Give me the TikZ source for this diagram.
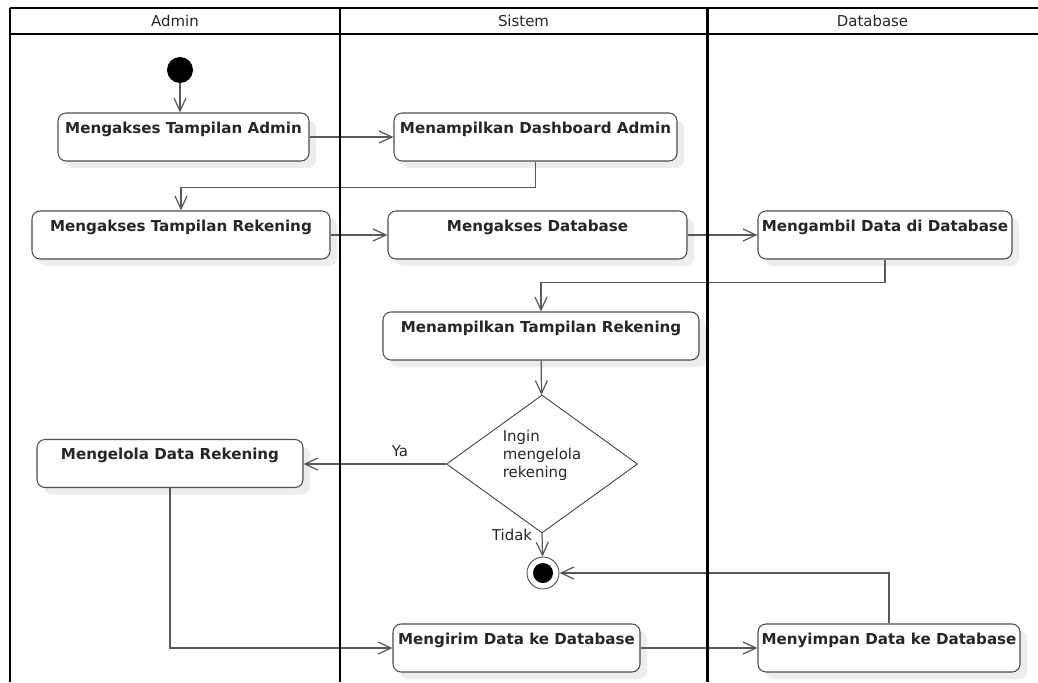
\documentclass[tikz,border=0pt]{standalone}
\usepackage{fontspec}
\setmainfont{DejaVu Sans}
\usetikzlibrary{shapes.geometric, arrows.meta, shadows}

\begin{document}
\begin{tikzpicture}[
        act/.style={rectangle, rounded corners=0.16cm, draw=black!70, line width=0.6pt, fill=white,
            minimum height=0.96cm, text height=0.4cm, text depth=0.56cm, inner ysep=0pt, inner xsep=1pt,
            font=\fontsize{8.6}{10}\selectfont\bfseries, text=black!85,
            drop shadow={shadow xshift=0.14cm, shadow yshift=-0.14cm, fill=black!10, opacity=0.7}},
        decision/.style={diamond, draw=black!75, line width=0.5pt, minimum width=3.82cm, minimum height=2.76cm, inner sep=0pt},
        initial/.style={circle, fill=black, minimum size=0.52cm, inner sep=0pt},
        final/.style={circle, draw=black!70, line width=0.5pt, minimum size=0.64cm, inner sep=0pt,
            path picture={\fill[black] (path picture bounding box.center) circle (0.2cm);}},
        flow/.style={-{Straight Barb[length=0.26cm, width=0.24cm]}, draw=black!65, line width=0.7pt},
        guard/.style={font=\fontsize{8.5}{10.25}\selectfont, text=black!85},
        lane/.style={line width=1.1pt},
        divider/.style={line width=1.7pt}
    ]
        \useasboundingbox (0,0) rectangle (20.76,13.64);

        % Admin lane
        \node[initial] (start) at (3.6, 12.24) {};
        \node[act, minimum width=5.02cm] (aksesadmin) at (3.67, 10.9) {Mengakses Tampilan Admin};
        \node[act, minimum width=5.96cm] (aksesrek) at (3.62, 8.94) {Mengakses Tampilan Rekening};
        \node[act, minimum width=5.32cm] (kelola) at (3.4, 4.37) {Mengelola Data Rekening};

        % Sistem lane
        \node[act, minimum width=5.66cm] (dashboard) at (10.71, 10.9) {Menampilkan Dashboard Admin};
        \node[act, minimum width=5.98cm] (aksesdb) at (10.75, 8.94) {Mengakses Database};
        \node[act, minimum width=6.32cm] (tampilrek) at (10.82, 6.92) {Menampilkan Tampilan Rekening};
        \node[decision] (ingin) at (10.84, 4.36) {};
        \node[guard, align=left] (inginlbl) at (10.84, 4.54) {Ingin\\mengelola\\rekening};
        \node[final] (stop) at (10.86, 2.18) {};
        \node[act, minimum width=4.94cm] (kirim) at (10.33, 0.68) {Mengirim Data ke Database};

        % Database lane
        \node[act, minimum width=5.08cm] (ambil) at (17.7, 8.94) {Mengambil Data di Database};
        \node[act, minimum width=5.24cm] (simpan) at (17.78, 0.68) {Menyimpan Data ke Database};

        % Flows
        \draw[flow] (start) -- (start |- aksesadmin.north);
        \draw[flow] (aksesadmin) -- (dashboard);
        \draw[flow] (dashboard.south) -- ++(0,-0.52) -| (aksesrek.north);
        \draw[flow] (aksesrek) -- (aksesdb);
        \draw[flow] (aksesdb) -- (ambil);
        \draw[flow] (ambil.south) -- ++(0,-0.46) -| (tampilrek.north);
        \draw[flow] (tampilrek) -- (ingin);
        \draw[flow] (ingin.west) -- (kelola.east |- ingin.west);
        \node[guard] (ya) at (8.0, 4.62) {Ya};
        \draw[flow] (ingin.south) -- (stop);
        \node[guard] (tidak) at (10.24, 2.94) {Tidak};
        \draw[flow] (kelola.south) |- (kirim.west);
        \draw[flow] (kirim) -- (simpan);
        \draw[flow] (simpan.north) |- (stop);

        % Swimlanes
        \draw[lane] (0.2, 13.48) -- (20.76, 13.48);
        \draw[lane] (0.2, 12.96) -- (20.76, 12.96);
        \foreach \x in {6.8, 14.14} {
            \draw[divider] (\x, 13.48) -- (\x, 0);
        }
        \draw[lane] (0.2, 13.48) -- (0.2, 0);
        \node[guard] (hadmin) at (3.5, 13.22) {Admin};
        \node[guard] (hsistem) at (10.47, 13.22) {Sistem};
        \node[guard] (hdb) at (17.45, 13.22) {Database};
    \end{tikzpicture}
\end{document}
